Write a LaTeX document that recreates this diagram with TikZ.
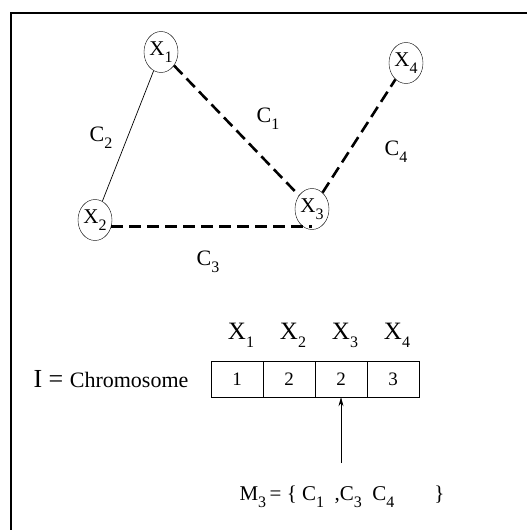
\documentclass[tikz,border=0pt]{standalone}
\usepackage{fontspec}
\setmainfont{Liberation Serif}
\usetikzlibrary{shapes.geometric,arrows.meta}
% lowered subscript, as printed in the figure
\newcommand{\lo}[1]{\raisebox{-0.7ex}{\fontsize{16}{16}\selectfont #1}}
\tikzset{
  var/.style={draw, ellipse, minimum width=34pt, minimum height=41pt, inner sep=0pt,
    font=\fontsize{21}{21}\selectfont},
  bond/.style={line width=2.6pt, dash pattern=on 12pt off 6pt},
  lbl/.style={font=\fontsize{22}{22}\selectfont},
  cell/.style={draw, minimum width=52pt, minimum height=36pt, inner sep=0pt,
    font=\fontsize{19}{19}\selectfont},
}
\begin{document}
\begin{tikzpicture}[x=1pt,y=-1pt]
  \useasboundingbox (0,0) rectangle (527,530);
  % frame, only top and left edges in view
  \draw[line width=1.5pt] (11,530) -- (11,13) -- (527,13);
  % variables
  \node[var] (X1) at (161,52) {X\lo{1}};
  \node[var] (X2) at (95,220) {X\lo{2}};
  \node[var] (X3) at (312,209) {X\lo{3}};
  \node[var] (X4) at (406,63) {X\lo{4}};
  % constraints
  \draw[line width=0.7pt] (X1) -- (X2);
  \draw[bond] (X1) -- (X3);
  \draw[bond] (X3) -- (X4);
  \draw[bond] (X2.-22) -- (X2.-22 -| X3.south);
  \node[lbl] (C1) at (268,119) {C\lo{1}};
  \node[lbl] (C2) at (101,138) {C\lo{2}};
  \node[lbl] (C3) at (208,262) {C\lo{3}};
  \node[lbl] (C4) at (396,152) {C\lo{4}};
  % chromosome
  \node[anchor=west] (chrom) at (30,379)
    {\fontsize{26}{26}\selectfont I = \fontsize{22}{22}\selectfont Chromosome};
  \foreach \v [count=\i] in {1,2,2,3} {
    \node[cell] (c\i) at (185+52*\i,379) {\v};
    \node[font=\fontsize{25}{25}\selectfont] (h\i) at (189+52*\i,335) {X\lo{\i}};
  }
  % mutation set of X3
  \node[anchor=west, font=\fontsize{21}{21}\selectfont] (M3) at (236,497)
    {M\lo{3}\,= \{\ C\lo{1} \ ,C\lo{3}\ \ C\lo{4}\hspace{1.9em}\}};
  \coordinate (tail) at (c3.center |- 0,463);
  \draw[-{Stealth[length=9pt,width=5pt]}, line width=0.7pt] (tail) -- (c3.south);
\end{tikzpicture}
\end{document}
